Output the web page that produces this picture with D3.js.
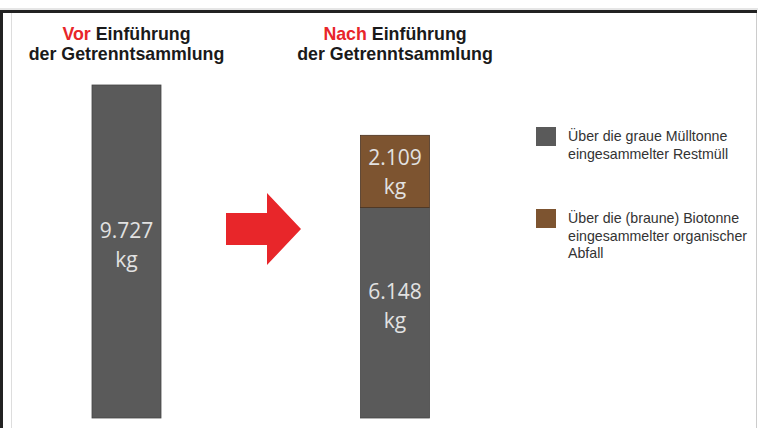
<!DOCTYPE html>
<html>
<head>
<meta charset="utf-8">
<script src="https://cdn.jsdelivr.net/npm/d3@7"></script>
<style>
  body { margin: 0; background: #fff; }
  svg { display: block; }
</style>
</head>
<body>
<div class="container"></div>
<script>
// data
var categories = ["Vor", "Nach"];
var restmuell = [9727, 6148];   // graue Tonne
var bioabfall = [0, 2109];      // braune Tonne
var titleWords = ["Vor", "Nach"];
var legendLabels = [
  ["Über die graue Mülltonne", "eingesammelter Restmüll"],
  ["Über die (braune) Biotonne", "eingesammelter organischer", "Abfall"]
];

var w = 758, h = 428;
var grey = "#5a5a5a", brown = "#7d5430", red = "#e8262a";

var svg = d3.select(".container")
  .append("svg")
  .attr("width", w)
  .attr("height", h);

// frame
svg.append("line").attr("x1", 0).attr("x2", w).attr("y1", 9).attr("y2", 9)
  .attr("stroke", "#ccc").attr("stroke-width", 1);
svg.append("rect").attr("x", 0).attr("y", 10).attr("width", 757).attr("height", 3).attr("fill", "#222");
svg.append("rect").attr("x", 0).attr("y", 10).attr("width", 3).attr("height", h - 10).attr("fill", "#222");
svg.append("line").attr("x1", 11.5).attr("x2", 11.5).attr("y1", 13).attr("y2", h)
  .attr("stroke", "#ddd");
svg.append("line").attr("x1", 756.5).attr("x2", 756.5).attr("y1", 13).attr("y2", h)
  .attr("stroke", "#ccc");

// scales
var x = d3.scalePoint().domain(categories).range([126.5, 395]);
var barW = 69;
var y = d3.scaleLinear().domain([0, 9727]).range([418, 85]);

// titles
var titles = svg.selectAll(".title")
  .data(categories)
  .enter().append("g")
  .attr("class", "title")
  .attr("transform", function(d) { return "translate(" + x(d) + ",0)"; })
  .style("font-family", "'Liberation Sans', Arial, sans-serif")
  .style("font-weight", "bold")
  .style("font-size", "17.8px");

var t1 = titles.append("text").attr("y", 40).attr("text-anchor", "middle").attr("fill", "#1a1a1a");
t1.append("tspan").attr("fill", red).text(function(d, i) { return titleWords[i]; });
t1.append("tspan").text(" Einführung");
titles.append("text").attr("y", 60).attr("text-anchor", "middle").attr("fill", "#1a1a1a")
  .text("der Getrenntsammlung");

// bars
var fmt = function(v) { return d3.format(",")(v).replace(",", "."); };

svg.selectAll(".rest")
  .data(categories)
  .enter().append("rect")
  .attr("class", "rest")
  .attr("x", function(d) { return x(d) - barW / 2; })
  .attr("y", function(d, i) { return y(restmuell[i]); })
  .attr("width", barW)
  .attr("height", function(d, i) { return y(0) - y(restmuell[i]); })
  .attr("fill", grey)
  .attr("stroke", "#444")
  .attr("stroke-width", 0.8);

svg.selectAll(".bio")
  .data(categories.filter(function(d, i) { return bioabfall[i] > 0; }))
  .enter().append("rect")
  .attr("class", "bio")
  .attr("x", function(d) { return x(d) - barW / 2; })
  .attr("y", function(d) { var i = categories.indexOf(d); return y(restmuell[i] + bioabfall[i]); })
  .attr("width", barW)
  .attr("height", function(d) { var i = categories.indexOf(d); return y(0) - y(bioabfall[i]); })
  .attr("fill", brown)
  .attr("stroke", "#4a3220")
  .attr("stroke-width", 0.8);

// value labels
function valueLabel(cx, y1, y2, v) {
  var g = svg.append("g")
    .style("font-family", "'Open Sans', sans-serif")
    .style("font-size", "21px")
    .attr("fill", "#e2e2e2")
    .attr("text-anchor", "middle");
  g.append("text").attr("x", cx).attr("y", y1).text(fmt(v));
  g.append("text").attr("x", cx).attr("y", y2).text("kg");
}
categories.forEach(function(d, i) {
  var c = (y(0) + y(restmuell[i])) / 2;
  valueLabel(x(d), c - 13.5, c + 15, restmuell[i]);
  if (bioabfall[i] > 0) {
    var cb = (y(restmuell[i]) + y(restmuell[i] + bioabfall[i])) / 2;
    valueLabel(x(d), cb - 6, cb + 23, bioabfall[i]);
  }
});

// arrow
svg.append("path")
  .attr("d", "M226,213 L267,213 L267,193 L301,229 L267,265 L267,245 L226,245 Z")
  .attr("fill", red);

// legend
var legend = svg.selectAll(".legend")
  .data(legendLabels)
  .enter().append("g")
  .attr("class", "legend")
  .attr("transform", function(d, i) { return "translate(536," + [127, 209][i] + ")"; });

legend.append("rect")
  .attr("width", 20).attr("height", 19)
  .attr("fill", function(d, i) { return [grey, brown][i]; });

legend.selectAll("text")
  .data(function(d) { return d; })
  .enter().append("text")
  .attr("x", 32)
  .attr("y", function(d, j) { return 14 + j * 17.5; })
  .style("font-family", "'Liberation Sans', Arial, sans-serif")
  .style("font-size", "14.2px")
  .attr("fill", "#333")
  .text(function(d) { return d; });
</script>
</body>
</html>
